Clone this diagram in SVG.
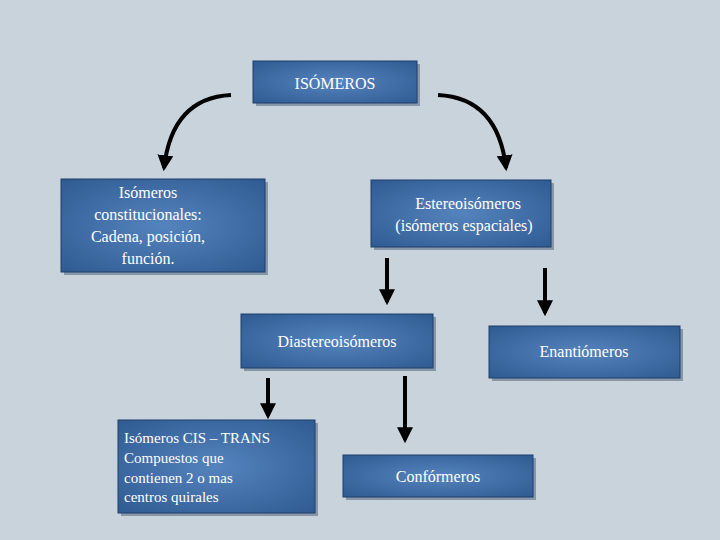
<svg xmlns="http://www.w3.org/2000/svg" width="720" height="540" viewBox="0 0 720 540">
<defs>
<radialGradient id="g" cx="0.5" cy="0.5" r="0.7"><stop offset="0" stop-color="#5583bd"/><stop offset="1" stop-color="#2f5b92"/></radialGradient>
<marker id="ah" viewBox="0 0 10 10" refX="8" refY="5" markerWidth="4" markerHeight="4" orient="auto"><path d="M0,0 L10,5 L0,10 Z" fill="#000"/></marker>
</defs>
<style>
.b{fill:url(#g);stroke:#1f3f6a;stroke-width:1}
.s{fill:#5c6f86;opacity:.6}
.t{font-family:"Liberation Serif",serif;font-size:16px;fill:#fff;text-anchor:middle}
.c{fill:none;stroke:#000;stroke-width:4;marker-end:url(#ah)}
</style>
<rect width="720" height="540" fill="#c8d3dc"/>
<g id="n1"><rect class="s" x="256" y="64" width="164" height="42"/><rect class="b" x="253" y="61" width="164" height="42"/><text class="t" x="335" y="89" font-size="20">ISÓMEROS</text></g>
<g id="n2"><rect class="s" x="64" y="182" width="204" height="93"/><rect class="b" x="61" y="179" width="204" height="93"/><text class="t" x="148" y="198">Isómeros</text><text class="t" x="148" y="220">constitucionales:</text><text class="t" x="148" y="242">Cadena, posición,</text><text class="t" x="148" y="264">función.</text></g>
<g id="n3"><rect class="s" x="374" y="183" width="180" height="67"/><rect class="b" x="371" y="180" width="180" height="67"/><text class="t" x="468" y="209">Estereoisómeros</text><text class="t" x="464" y="231">(isómeros  espaciales)</text></g>
<g id="n4"><rect class="s" x="244" y="317" width="192" height="54"/><rect class="b" x="241" y="314" width="192" height="54"/><text class="t" x="337" y="347">Diastereoisómeros</text></g>
<g id="n5"><rect class="s" x="492" y="329" width="191" height="52"/><rect class="b" x="489" y="326" width="191" height="52"/><text class="t" x="584" y="357">Enantiómeros</text></g>
<g id="n6"><rect class="s" x="121" y="423" width="197" height="93"/><rect class="b" x="118" y="420" width="197" height="93"/><g font-family="'Liberation Serif',serif" font-size="15" fill="#fff"><text x="124" y="443">Isómeros  CIS – TRANS</text><text x="124" y="463">Compuestos que</text><text x="124" y="483">contienen 2 o mas</text><text x="124" y="502">centros quirales</text></g></g>
<g id="n7"><rect class="s" x="346" y="458" width="190" height="42"/><rect class="b" x="343" y="455" width="190" height="42"/><text class="t" x="438" y="482">Confórmeros</text></g>
<g id="connectors">
<path class="c" d="M231,95 Q172,98 164,168"/>
<path class="c" d="M438,95 Q498,98 506,168"/>
<path class="c" d="M387,258 L387,302"/>
<path class="c" d="M545,268 L545,313"/>
<path class="c" d="M268,378 L268,416"/>
<path class="c" d="M405,376 L405,440"/>
</g>
</svg>
